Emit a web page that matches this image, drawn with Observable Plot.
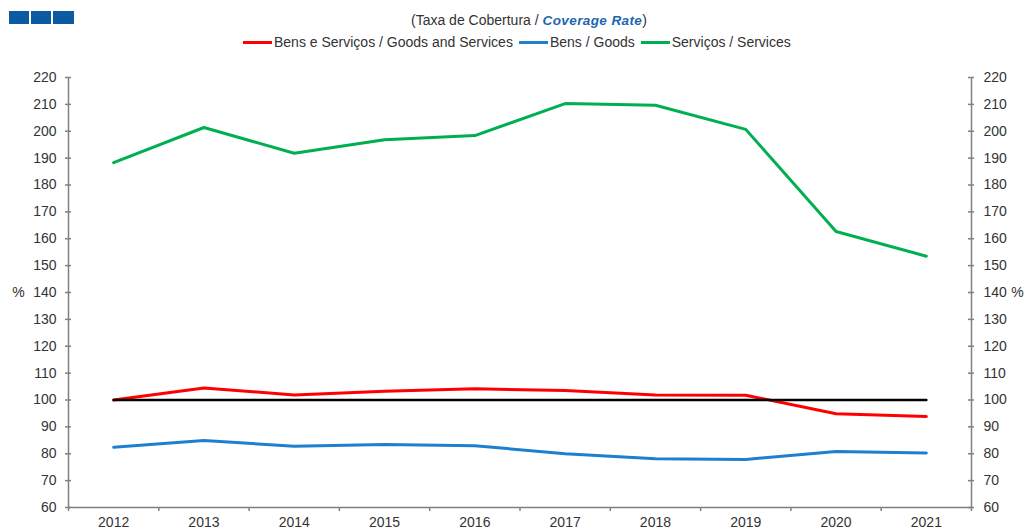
<!DOCTYPE html>
<html><head><meta charset="utf-8">
<script src="https://cdn.jsdelivr.net/npm/d3@7"></script>
<script src="https://cdn.jsdelivr.net/npm/@observablehq/plot@0.6"></script>
<style>
html,body{margin:0;padding:0;background:#fff;overflow:hidden;}
body{font-family:"Liberation Sans",Arial,sans-serif;width:1026px;height:528px;position:relative;color:#222;}
#header{position:relative;height:60px;}
.logo{position:absolute;top:11px;height:13px;background:#0b5aa2;}
#title{position:absolute;top:12px;left:411px;font-size:14px;white-space:nowrap;color:#333;}
#title b{color:#1a66b0;font-style:italic;letter-spacing:0.4px;font-size:13.5px;}
#legend{position:absolute;top:34px;left:243px;display:flex;font-size:14px;white-space:nowrap;color:#333;}
.item{display:flex;align-items:center;margin-right:6px;}
.sw{display:inline-block;width:29px;height:3px;margin-right:2px;}
#chart svg{display:block;}
</style></head>
<body>
<div id="header">
  <div class="logo" style="left:9px;width:20px"></div>
  <div class="logo" style="left:31px;width:20px"></div>
  <div class="logo" style="left:53px;width:21px"></div>
  <div id="title">(Taxa de Cobertura / <b>Coverage Rate</b>)</div>
  <div id="legend"></div>
</div>
<div id="chart"></div>
<script>
const years = [2012, 2013, 2014, 2015, 2016, 2017, 2018, 2019, 2020, 2021];
const goodsServices = [100.0, 104.5, 101.9, 103.3, 104.2, 103.5, 101.9, 101.8, 94.9, 93.9];
const goods = [82.4, 84.9, 82.8, 83.4, 83.0, 80.0, 78.1, 77.9, 80.8, 80.3];
const services = [188.3, 201.4, 191.8, 196.8, 198.4, 210.3, 209.7, 200.7, 162.7, 153.5];
const reference = [100, 100, 100, 100, 100, 100, 100, 100, 100, 100];
const seriesNames = ["Bens e Serviços / Goods and Services", "Bens / Goods", "Serviços / Services"];
const seriesColors = ["#ff0000", "#1e7fd0", "#00b050"];
const yTicks = [60, 70, 80, 90, 100, 110, 120, 130, 140, 150, 160, 170, 180, 190, 200, 210, 220];

const seriesValues = [goodsServices, goods, services];
const table = [];
seriesNames.forEach((name, i) => years.forEach((yr, j) => table.push({series: name, year: yr, value: seriesValues[i][j]})));
const refTable = years.map((yr, j) => ({year: yr, value: reference[j]}));
const bounds = [...years.map(y => y - 0.5), years[years.length - 1] + 0.5];

const legend = document.getElementById("legend");
seriesNames.forEach((n, i) => {
  const d = document.createElement("div");
  d.className = "item";
  d.innerHTML = `<span class="sw" style="background:${seriesColors[i]}"></span><span>${n}</span>`;
  legend.appendChild(d);
});

const W = 1026, ML = 68, MR = 55;
const FW = W - ML - MR;
const axisColor = "#808080";

const chart = Plot.plot({
  width: W, height: 490,
  marginTop: 17, marginBottom: 43, marginLeft: ML, marginRight: MR,
  x: {type: "linear", domain: [bounds[0], bounds[bounds.length - 1]]},
  y: {domain: [60, 220]},
  color: {domain: seriesNames, range: seriesColors},
  style: {fontFamily: "Liberation Sans, Arial, sans-serif", fontSize: "14px", color: "#333", background: "#fff"},
  marks: [
    Plot.ruleY([60], {stroke: axisColor, strokeWidth: 1.5}),
    Plot.ruleX([bounds[0], bounds[bounds.length - 1]], {stroke: axisColor, strokeWidth: 1.5}),
    Plot.axisX({ticks: bounds, tickSize: 4, tickFormat: () => "", stroke: axisColor, strokeWidth: 1.5, label: null}),
    Plot.axisX({ticks: years, tickSize: 0, tickPadding: 10, tickFormat: d => String(d), label: null}),
    Plot.axisY({anchor: "left", ticks: yTicks, tickSize: 0, tickPadding: 12, label: null}),
    Plot.axisY({anchor: "right", ticks: yTicks, tickSize: 0, tickPadding: 12, label: null}),
    Plot.tickY(yTicks, {y: d => d, insetLeft: -3, insetRight: FW - 3, stroke: axisColor, strokeWidth: 1.5}),
    Plot.tickY(yTicks, {y: d => d, insetLeft: FW - 3, insetRight: -3, stroke: axisColor, strokeWidth: 1.5}),
    Plot.text(["%"], {frameAnchor: "left", textAnchor: "middle", dx: -50, fill: "#333"}),
    Plot.text(["%"], {frameAnchor: "right", textAnchor: "middle", dx: 46, fill: "#333"}),
    Plot.line(table, {x: "year", y: "value", z: "series", stroke: "series", strokeWidth: 3}),
    Plot.line(refTable, {x: "year", y: "value", stroke: "#000", strokeWidth: 2.5})
  ]
});
document.getElementById("chart").appendChild(chart);
</script>
</body></html>
